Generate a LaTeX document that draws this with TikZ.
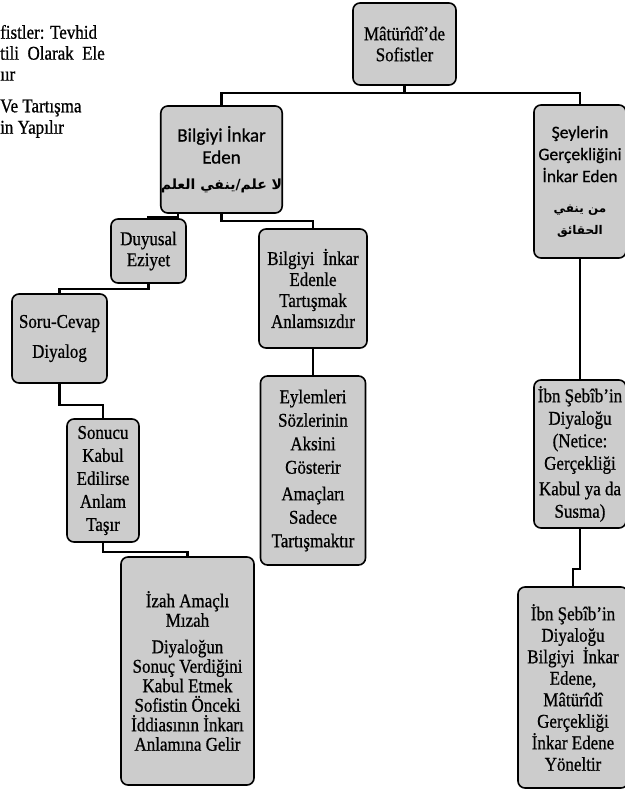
\documentclass[tikz,border=0pt]{standalone}
\usepackage{fontspec}
\setmainfont{Liberation Serif}[FakeStretch=0.87, FakeBold=0.7]
\newfontfamily\sansf{Carlito}[FakeBold=0.7]
\newfontfamily\arabicfont[Script=Arabic]{DejaVu Sans}
\TeXXeTstate=1
\begin{document}
\begin{tikzpicture}[x=1pt,y=-1pt,
  box/.style={draw=black, line width=1.6pt, rounded corners=7pt, fill=black!20,
    inner sep=0pt, align=center, font=\fontsize{19.5}{21}\selectfont},
  sbox/.style={box, font=\sansf\fontsize{19}{22}\selectfont},
  conn/.style={line width=2.6pt, black},
  side/.style={anchor=west, inner sep=0pt, font=\fontsize{19.5}{20}\selectfont}]
\useasboundingbox (0,0) rectangle (624,790);

% side text (cut off at the page edge)
\node[side] (s1) at (0,32) {fistler: Tevhid};
\node[side] (s2) at (0,53) {tili\ \ Olarak\ \ Ele};
\node[side] (s3) at (0,76) {ıır};
\node[side] (s4) at (0,108) {Ve Tartışma};
\node[side] (s5) at (0,129) {in Yapılır};

% boxes
\node[box, minimum width=103pt, minimum height=82pt] (root) at (404.5,44) {Mâtürîdî'de\\Sofistler};
\node[sbox, minimum width=109pt, minimum height=107pt] (bilgi) at (221.5,159.5)
  {Bilgiyi İnkar\\Eden\\[4pt]{\arabicfont\bfseries\fontsize{14}{16}\selectfont\beginR لا علم/ينفي العلم\endR}};
\node[sbox, minimum width=92pt, minimum height=153pt, font=\sansf\fontsize{17.5}{22}\selectfont] (seyler) at (580,181.5)
  {Şeylerin\\Gerçekliğini\\İnkar Eden\\[8pt]{\arabicfont\bfseries\fontsize{12}{15}\selectfont\beginR من ينفي\endR}\\{\arabicfont\bfseries\fontsize{12}{15}\selectfont\beginR الحقائق\endR}};
\node[box, minimum width=75pt, minimum height=64pt] (duyu) at (148.5,251) {Duyusal\\Eziyet};
\node[box, minimum width=108pt, minimum height=119pt] (edenle) at (313,288.5)
  {Bilgiyi\ \ İnkar\\Edenle\\Tartışmak\\Anlamsızdır};
\node[box, minimum width=95pt, minimum height=89pt] (soru) at (59.5,338.5) {Soru-Cevap\\[9pt]Diyalog};
\node[box, minimum width=72pt, minimum height=123pt, font=\fontsize{19.5}{23}\selectfont] (sonucu) at (103,480.5)
  {Sonucu\\Kabul\\Edilirse\\Anlam\\Taşır};
\node[box, minimum width=105pt, minimum height=189pt, font=\fontsize{19.5}{23.5}\selectfont] (eylem) at (313,470.5)
  {Eylemleri\\Sözlerinin\\Aksini\\Gösterir\\[3pt]Amaçları\\Sadece\\Tartışmaktır};
\node[box, minimum width=133pt, minimum height=228pt, font=\fontsize{19.5}{19.5}\selectfont] (izah) at (187.5,671)
  {İzah Amaçlı\\Mızah\\[7pt]Diyaloğun\\Sonuç Verdiğini\\Kabul Etmek\\Sofistin Önceki\\İddiasının İnkarı\\Anlamına Gelir};
\node[box, minimum width=92pt, minimum height=148pt, font=\fontsize{19.5}{22.5}\selectfont] (ibn1) at (580,454)
  {İbn Şebîb'in\\Diyaloğu\\(Netice:\\Gerçekliği\\[3pt]Kabul ya da\\Susma)};
\node[box, minimum width=110pt, minimum height=201pt, font=\fontsize{19.5}{21.5}\selectfont] (ibn2) at (573,687.5)
  {İbn Şebîb'in\\Diyaloğu\\Bilgiyi\ \ İnkar\\Edene,\\Mâtürîdî\\Gerçekliği\\İnkar Edene\\Yöneltir};

% connectors
\coordinate (bus) at (0,93);
\coordinate (dA) at (178,0);
\draw[conn] (root.south) -- (root.south |- bus) -| (bilgi.north);
\draw[conn] (root.south |- bus) -| (seyler.north);
\draw[conn] (bilgi.south -| dA) -- ++(0,3) -| (duyu.north);
\draw[conn] (bilgi.south) -- ++(0,7) -| (edenle.north);
\draw[conn] (edenle.south) -- (eylem.north);
\draw[conn] (duyu.south) -- ++(0,5) -| (soru.north);
\draw[conn] (soru.south) -- ++(0,21) -| (sonucu.north);
\draw[conn] (sonucu.south) -- ++(0,9) -| (izah.north);
\draw[conn] (seyler.south) -- (ibn1.north);
\draw[conn] (ibn1.south) -- ++(0,40) -| (ibn2.north);
\end{tikzpicture}
\end{document}
